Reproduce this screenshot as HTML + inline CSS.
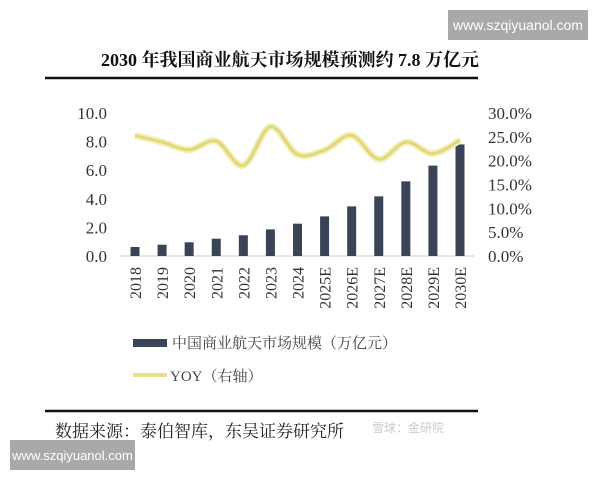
<!DOCTYPE html>
<html><head><meta charset="utf-8"><style>
body{margin:0;background:#fff;width:600px;height:480px;overflow:hidden;position:relative;font-family:"Liberation Serif","Noto Serif CJK SC",serif}
.wm{position:absolute;background:#a9a9a9;color:#fff;font-family:"Liberation Sans",sans-serif;font-size:14px;display:flex;align-items:center;justify-content:center}
</style></head><body>
<div class="wm" style="left:448px;top:10px;width:140px;height:30px">www.szqiyuanol.com</div>
<svg width="600" height="480" style="position:absolute;left:0;top:0">
<text x="290" y="66" text-anchor="middle" font-size="18" font-weight="bold" fill="#111">2030 年我国商业航天市场规模预测约 7.8 万亿元</text>
<line x1="45" y1="78" x2="478" y2="78" stroke="#111" stroke-width="2.5"/>
<g id="plot"></g>
<g>
<rect x="133" y="339" width="34" height="8" fill="#3a4456"/>
<text x="172" y="348" font-size="15" fill="#444">中国商业航天市场规模（万亿元）</text>
<line x1="133" y1="375" x2="167" y2="375" stroke="#e8e08a" stroke-width="4"/>
<text x="170" y="381" font-size="15" fill="#444">YOY（右轴）</text>
</g>
<line x1="45" y1="411" x2="478" y2="411" stroke="#111" stroke-width="2.5"/>
<text x="55" y="437" font-size="17" fill="#222">数据来源：泰伯智库，东吴证券研究所</text>
<text x="372" y="432" font-size="12" fill="#ccc" font-family="Liberation Sans, Noto Sans CJK SC, sans-serif">雪球：金研院</text>
</svg>
<div class="wm" style="left:10px;top:440px;width:125px;height:30px;font-size:13px">www.szqiyuanol.com</div>
<script>
const categories=["2018","2019","2020","2021","2022","2023","2024","2025E","2026E","2027E","2028E","2029E","2030E"];
const marketSize=[0.63,0.79,0.96,1.21,1.45,1.86,2.26,2.77,3.47,4.17,5.22,6.32,7.8];
const yoy=[25.3,23.9,22.3,24.1,19.0,27.1,21.3,22.2,25.3,20.3,23.9,21.5,24.3];
const leftTicks=["0.0","2.0","4.0","6.0","8.0","10.0"];
const rightTicks=["0.0%","5.0%","10.0%","15.0%","20.0%","25.0%","30.0%"];
const NS="http://www.w3.org/2000/svg";
const g=document.getElementById('plot');
const y0=256,yTop=113;
const yL=v=>y0-(v/10)*(y0-yTop);
const yR=v=>y0-(v/30)*(y0-yTop);
const xC=i=>135+i*(460-135)/(categories.length-1);
function mk(t,a){const e=document.createElementNS(NS,t);for(const k in a)e.setAttribute(k,a[k]);g.appendChild(e);return e;}
let ax=mk('line',{x1:120,y1:y0,x2:474,y2:y0,stroke:'#ccc','stroke-width':1});


leftTicks.forEach(t=>{const e=mk('text',{x:107,y:yL(parseFloat(t))+6,'text-anchor':'end','font-size':17,fill:'#333'});e.textContent=t;

});
rightTicks.forEach(t=>{const e=mk('text',{x:488,y:yR(parseFloat(t))+6,'font-size':17,fill:'#333'});e.textContent=t;

});
marketSize.forEach((v,i)=>{const r=mk('rect',{x:xC(i)-4.5,y:yL(v),width:9,height:y0-yL(v),fill:'#3a4456'});

});
categories.forEach((c,i)=>{const e=mk('text',{transform:`translate(${xC(i)+6},267) rotate(-90)`,'text-anchor':'end','font-size':16,fill:'#333'});e.textContent=c;

});
const pts=yoy.map((v,i)=>[xC(i),yR(v)]);
let d=`M${pts[0][0]},${pts[0][1]}`;
for(let i=0;i<pts.length-1;i++){const p0=pts[i-1]||pts[i],p1=pts[i],p2=pts[i+1],p3=pts[i+2]||p2;
d+=` C${p1[0]+(p2[0]-p0[0])/6},${p1[1]+(p2[1]-p0[1])/6} ${p2[0]-(p3[0]-p1[0])/6},${p2[1]-(p3[1]-p1[1])/6} ${p2[0]},${p2[1]}`;}
const glow=mk('path',{d,fill:'none',stroke:'#f3efbf','stroke-width':7,'stroke-linejoin':'round'});


const ln=mk('path',{d,fill:'none',stroke:'#e2d878','stroke-width':3,'stroke-linejoin':'round'});


</script>
</body></html>
